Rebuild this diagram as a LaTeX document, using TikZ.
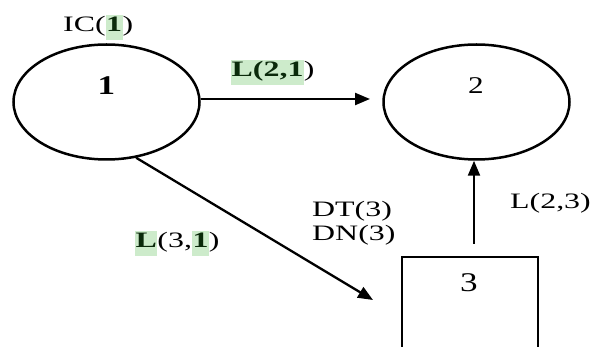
\documentclass[tikz,border=0pt]{standalone}
\usepackage{fontspec}
\setmainfont{Liberation Serif}[FakeStretch=1.45]
\newfontfamily\numfont{Liberation Serif}[FakeStretch=1.3]
\usetikzlibrary{arrows.meta,shapes.geometric}
\definecolor{hlgreen}{HTML}{CDEBCB}
\definecolor{hltext}{HTML}{0B2A0B}
\newcommand{\hlg}[1]{{\setlength{\fboxsep}{0.5pt}\colorbox{hlgreen}{\color{hltext}\bfseries\strut #1}}}
\begin{document}
\begin{tikzpicture}[x=1pt,y=-1pt,
  lbl/.style={font=\fontsize{22}{24}\selectfont, inner sep=0, anchor=base west},
  num/.style={font=\numfont\fontsize{26}{28}\selectfont, inner sep=0, anchor=base},
  state/.style={draw, ellipse, line width=2.5pt, minimum width=186pt, minimum height=115pt, inner sep=0},
  arr/.style={line width=2.3pt, -{Triangle[length=15pt,width=12pt]}}]
\useasboundingbox (0,0) rectangle (598,347);
\clip (0,0) rectangle (598,347);
\node[state] (n1) at (106.5,102) {};
\node[state] (n2) at (476.5,102) {};
\node[draw, line width=2.8pt, minimum width=136pt, minimum height=140pt, inner sep=0] (n3) at (470,327) {};
\node[num, font=\numfont\fontsize{27}{29}\selectfont] (t1) at (106.5,95) {\bfseries 1};
\node[num, font=\numfont\fontsize{24}{26}\selectfont] (t2) at (476,94) {2};
\node[num, font=\numfont\fontsize{27}{29}\selectfont] (t3) at (469,292) {3};
\node[lbl] (ic) at (63,32) {IC(\hlg{1})};
\coordinate (c21) at (370,99);
\draw[arr] (n1.east |- c21) -- (c21);
\coordinate (c31) at (373,300);
\draw[arr] (n1.-62.6) -- (c31);
\coordinate (c23) at (474,244);
\draw[arr] (c23) -- (c23 |- n2.south);
\node[lbl] (l21) at (231,77) {\hlg{L(2,1})};
\node[lbl] (l31) at (135,248) {\hlg{L}(3,\hlg{1})};
\node[lbl] (l23) at (510,209) {L(2,3)};
\node[lbl] (dt) at (312,217) {DT(3)};
\node[lbl] (dn) at (312,241) {DN(3)};
\end{tikzpicture}
\end{document}
